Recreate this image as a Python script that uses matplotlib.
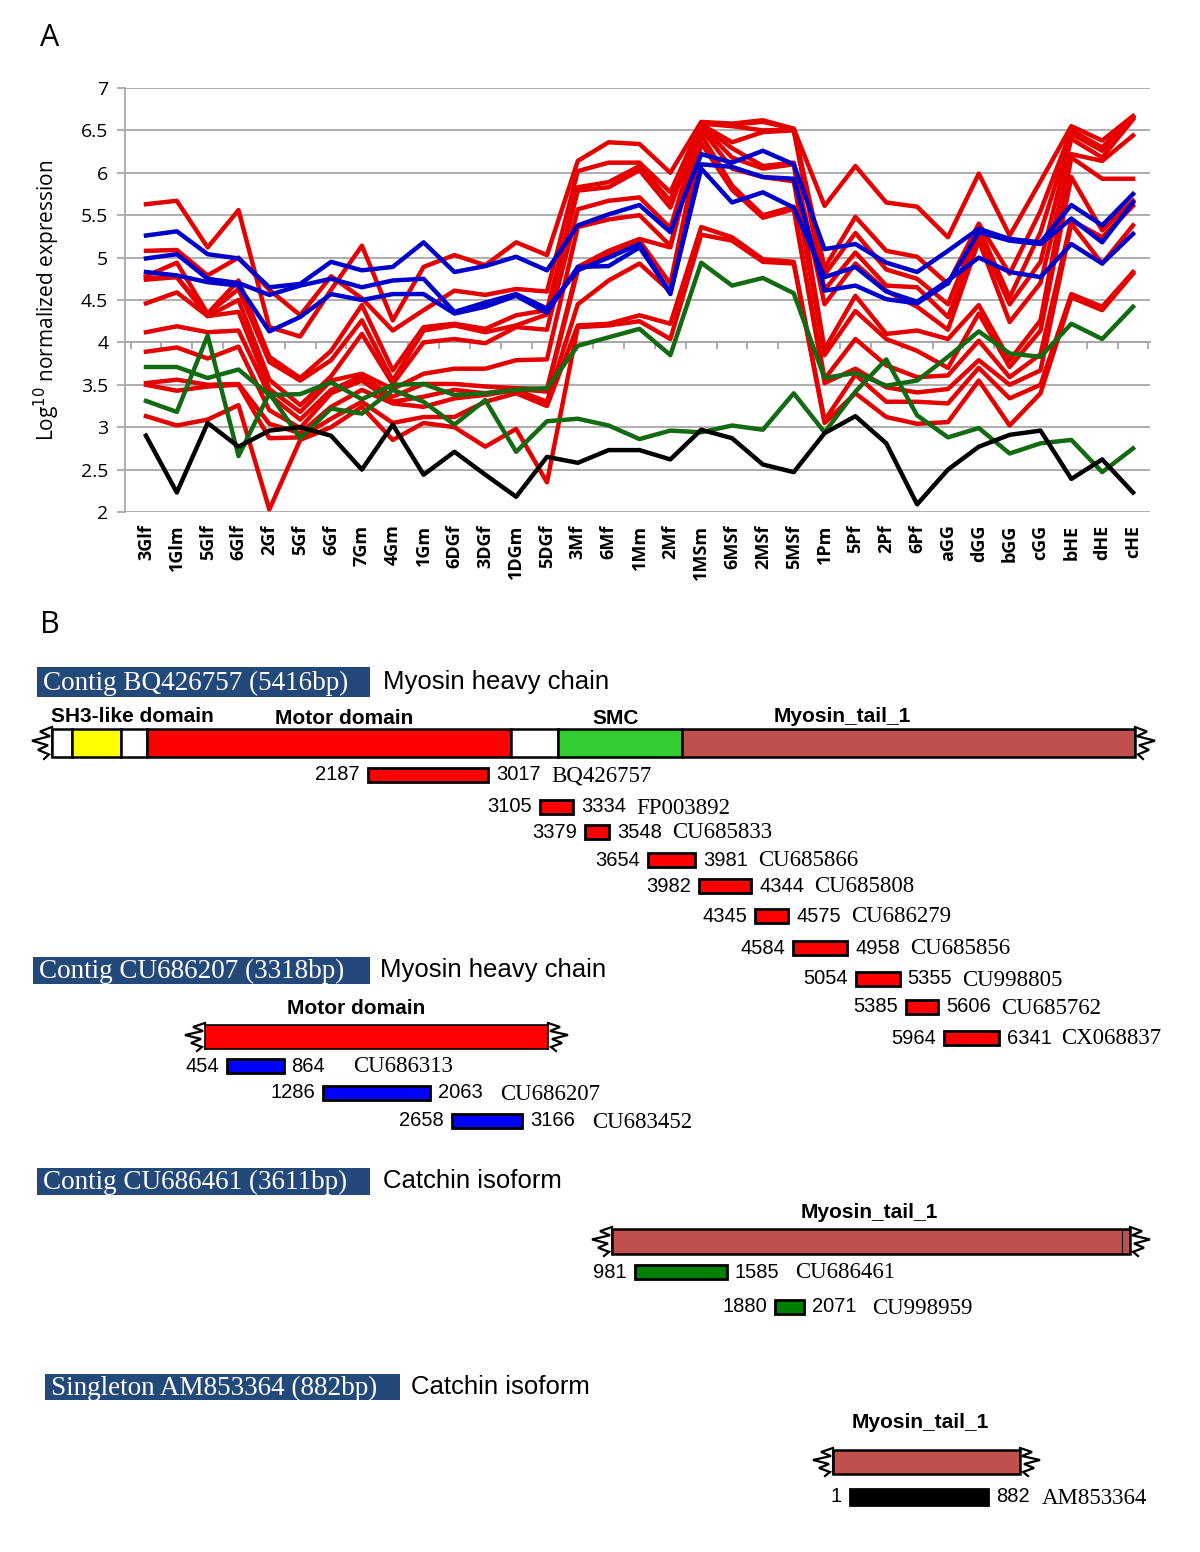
import matplotlib
matplotlib.use('Agg')
import matplotlib.pyplot as plt
import numpy as np
from matplotlib.patches import Rectangle

# ---------------- Panel A data ----------------
categories = ['3Glf', '1Glm', '5Glf', '6Glf', '2Gf', '5Gf', '6Gf', '7Gm', '4Gm', '1Gm',
              '6DGf', '3DGf', '1DGm', '5DGf', '3Mf', '6Mf', '1Mm', '2Mf', '1MSm', '6MSf',
              '2MSf', '5MSf', '1Pm', '5Pf', '2Pf', '6Pf', 'aGG', 'dGG', 'bGG', 'cGG',
              'bHE', 'dHE', 'cHE']

red1 = [5.63, 5.67, 5.12, 5.56, 4.18, 4.07, 4.62, 5.14, 4.26, 4.89, 5.03, 4.91, 5.18, 5.03,
        6.14, 6.36, 6.34, 6.00, 6.60, 6.58, 6.62, 6.52, 5.61, 6.08, 5.65, 5.60, 5.24, 5.99,
        5.26, 5.90, 6.55, 6.38, 6.67]
red2 = [5.08, 5.09, 4.79, 5.00, 4.62, 4.32, 4.78, 4.52, 4.14, 4.38, 4.61, 4.56, 4.63, 4.60,
        6.02, 6.12, 6.12, 5.77, 6.58, 6.57, 6.60, 6.52, 4.88, 5.48, 5.08, 5.01, 4.69, 5.40,
        4.81, 5.55, 6.50, 6.30, 6.66]
red3 = [4.78, 4.94, 4.34, 4.73, 3.83, 3.58, 3.90, 4.44, 3.67, 4.18, 4.22, 4.16, 4.32, 4.38,
        5.83, 5.89, 6.08, 5.67, 6.58, 6.55, 6.50, 6.51, 4.80, 5.29, 4.86, 4.75, 4.45, 5.35,
        4.53, 5.30, 6.46, 6.26, 6.65]
red4 = [4.76, 4.77, 4.34, 4.63, 3.77, 3.55, 3.79, 4.26, 3.55, 4.14, 4.20, 4.12, 4.20, 4.33,
        5.79, 5.83, 6.03, 5.59, 6.57, 6.36, 6.48, 6.50, 4.62, 5.06, 4.67, 4.65, 4.30, 5.25,
        4.45, 4.95, 6.40, 6.18, 6.63]
red5 = [4.74, 4.77, 4.31, 4.50, 3.56, 3.26, 3.60, 4.10, 3.51, 4.00, 4.04, 3.99, 4.18, 4.15,
        5.57, 5.67, 5.71, 5.35, 6.56, 6.29, 6.08, 6.12, 4.45, 4.93, 4.61, 4.42, 4.15, 5.20,
        4.24, 4.70, 6.22, 6.14, 6.44]
red6 = [4.46, 4.59, 4.31, 4.36, 3.45, 3.18, 3.55, 3.63, 3.45, 3.63, 3.69, 3.69, 3.79, 3.80,
        5.36, 5.45, 5.50, 5.14, 6.55, 6.18, 6.05, 6.10, 3.92, 4.55, 4.10, 4.14, 4.04, 4.44,
        3.79, 4.26, 6.18, 5.93, 5.93]
red7 = [4.12, 4.19, 4.12, 4.14, 3.38, 3.09, 3.44, 3.60, 3.36, 3.51, 3.51, 3.48, 3.46, 3.45,
        4.89, 5.08, 5.22, 5.12, 6.52, 6.05, 5.95, 5.90, 3.85, 4.37, 4.04, 3.90, 3.70, 4.34,
        3.71, 4.14, 5.95, 5.32, 5.67]
red8 = [3.89, 3.94, 3.81, 3.95, 3.20, 2.99, 3.40, 3.55, 3.30, 3.36, 3.44, 3.40, 3.45, 3.42,
        4.85, 5.05, 5.20, 4.69, 6.45, 5.85, 5.50, 5.60, 3.57, 4.04, 3.73, 3.59, 3.61, 4.02,
        3.59, 3.86, 5.44, 5.24, 5.61]
red9 = [3.52, 3.56, 3.50, 3.51, 3.04, 2.93, 3.24, 3.44, 3.28, 3.24, 3.34, 3.38, 3.44, 3.30,
        4.45, 4.73, 4.93, 4.60, 6.35, 5.80, 5.47, 5.57, 3.52, 3.69, 3.47, 3.41, 3.45, 3.79,
        3.50, 3.67, 5.40, 4.93, 5.38]
red10 = [3.50, 3.43, 3.48, 3.50, 2.87, 2.88, 3.10, 3.30, 3.05, 3.12, 3.12, 3.30, 3.40, 3.25,
         4.20, 4.22, 4.32, 4.22, 5.36, 5.24, 4.98, 4.95, 3.08, 3.62, 3.30, 3.30, 3.28, 3.70,
         3.34, 3.50, 4.57, 4.42, 4.83]
red11 = [3.13, 3.02, 3.09, 3.26, 2.03, 2.85, 3.00, 3.24, 2.85, 3.05, 3.00, 2.77, 2.98, 2.35,
         4.18, 4.20, 4.25, 4.04, 5.27, 5.20, 4.95, 4.93, 3.05, 3.40, 3.12, 3.04, 3.06, 3.55,
         3.02, 3.40, 4.53, 4.38, 4.81]

blue1 = [5.26, 5.31, 5.04, 4.99, 4.65, 4.69, 4.95, 4.85, 4.89, 5.18, 4.83, 4.90, 5.01, 4.85,
         5.38, 5.51, 5.62, 5.30, 6.22, 6.12, 6.26, 6.10, 5.10, 5.16, 4.94, 4.83, 5.08, 5.34,
         5.22, 5.18, 5.62, 5.38, 5.75]
blue2 = [4.99, 5.04, 4.75, 4.70, 4.56, 4.67, 4.75, 4.65, 4.73, 4.75, 4.36, 4.47, 4.57, 4.40,
         4.85, 5.00, 5.16, 4.57, 6.10, 6.07, 5.95, 5.93, 4.61, 4.67, 4.51, 4.46, 4.70, 5.30,
         5.20, 5.16, 5.46, 5.18, 5.65]
blue3 = [4.83, 4.79, 4.71, 4.67, 4.13, 4.30, 4.57, 4.50, 4.57, 4.57, 4.34, 4.42, 4.55, 4.35,
         4.89, 4.90, 5.12, 4.59, 6.05, 5.65, 5.77, 5.59, 4.77, 4.89, 4.60, 4.48, 4.73, 5.00,
         4.83, 4.77, 5.16, 4.93, 5.28]

green1 = [3.71, 3.71, 3.58, 3.68, 3.38, 3.39, 3.53, 3.33, 3.50, 3.51, 3.38, 3.40, 3.44, 3.46,
          3.96, 4.06, 4.16, 3.85, 4.94, 4.67, 4.76, 4.58, 3.58, 3.64, 3.49, 3.55, 3.83, 4.13,
          3.87, 3.83, 4.22, 4.04, 4.42]
green2 = [3.31, 3.18, 4.08, 2.66, 3.40, 2.87, 3.22, 3.16, 3.44, 3.30, 3.03, 3.32, 2.71, 3.07,
          3.10, 3.02, 2.86, 2.96, 2.94, 3.02, 2.97, 3.40, 2.94, 3.42, 3.80, 3.14, 2.88, 2.99,
          2.69, 2.81, 2.85, 2.47, 2.75]

black1 = [2.90, 2.23, 3.05, 2.77, 2.96, 3.00, 2.90, 2.50, 3.03, 2.44, 2.71, 2.44, 2.18, 2.65,
          2.58, 2.73, 2.73, 2.62, 2.97, 2.87, 2.56, 2.47, 2.93, 3.13, 2.81, 2.09, 2.50, 2.77,
          2.91, 2.96, 2.39, 2.62, 2.23]

y_ticks = [2, 2.5, 3, 3.5, 4, 4.5, 5, 5.5, 6, 6.5, 7]

# ---------------- Panel B data ----------------
contig_titles = ['Contig BQ426757 (5416bp)', 'Contig CU686207 (3318bp)',
                 'Contig CU686461 (3611bp)', 'Singleton AM853364 (882bp)']
contig_desc = ['Myosin heavy chain', 'Myosin heavy chain', 'Catchin isoform', 'Catchin isoform']

frag1_start = [2187, 3105, 3379, 3654, 3982, 4345, 4584, 5054, 5385, 5964]
frag1_end = [3017, 3334, 3548, 3981, 4344, 4575, 4958, 5355, 5606, 6341]
frag1_acc = ['BQ426757', 'FP003892', 'CU685833', 'CU685866', 'CU685808', 'CU686279',
             'CU685856', 'CU998805', 'CU685762', 'CX068837']
frag2_start = [454, 1286, 2658]
frag2_end = [864, 2063, 3166]
frag2_acc = ['CU686313', 'CU686207', 'CU683452']
frag3_start = [981, 1880]
frag3_end = [1585, 2071]
frag3_acc = ['CU686461', 'CU998959']
frag4_start = [1]
frag4_end = [882]
frag4_acc = ['AM853364']

# ---------------- Figure ----------------
W, H = 1200, 1552
fig = plt.figure(figsize=(W / 100, H / 100), dpi=100)
SANS = ['Liberation Sans', 'DejaVu Sans']
SERIF = ['Liberation Serif', 'DejaVu Serif']
OPEN = ['Open Sans', 'DejaVu Sans']

ax = fig.add_axes([125 / W, 1 - 512 / H, 1025 / W, 424 / H])
x = np.arange(len(categories))
RED, BLUE, GREEN, BLACK = '#E50000', '#0000CC', '#126B12', '#000000'
LW = 3.2
for s in [red1, red2, red3, red4, red5, red6, red7, red8, red9, red10, red11]:
    ax.plot(x, s, color=RED, lw=LW, solid_joinstyle='round', zorder=3)
for s in [blue1, blue2, blue3]:
    ax.plot(x, s, color=BLUE, lw=LW, solid_joinstyle='round', zorder=4)
for s in [green1, green2]:
    ax.plot(x, s, color=GREEN, lw=LW, solid_joinstyle='round', zorder=5)
ax.plot(x, black1, color=BLACK, lw=LW, solid_joinstyle='round', zorder=6)

ax.set_xlim(-0.68, 32.55)
ax.set_ylim(2, 7)
ax.set_yticks(y_ticks)
ax.set_yticklabels([f'{v:g}' for v in y_ticks], fontfamily=OPEN, fontsize=14)
ax.grid(axis='y', color='#A8A8A8', lw=1.3, zorder=0)
for sp in ['top', 'right', 'bottom']:
    ax.spines[sp].set_visible(False)
ax.spines['left'].set_color('#A8A8A8')
ax.spines['left'].set_linewidth(1.3)
ax.tick_params(axis='y', length=6, width=1.3, color='#A8A8A8', pad=6)
ax.set_xticks(x)
ax.set_xticklabels(categories, rotation=90, fontweight='bold', fontsize=13, fontfamily=OPEN)
ax.tick_params(axis='x', length=0, pad=9)
ax.set_ylabel('Log$^{10}$ normalized expression', fontsize=15, fontfamily=OPEN, labelpad=14)

# category boundary ticks on the axis line at y = 4
sec = ax.secondary_xaxis((4 - 2) / 5)
sec.set_xticks(np.arange(-0.5, len(categories), 1))
sec.xaxis.set_ticks_position('bottom')
sec.tick_params(axis='x', direction='out', length=5, width=1.3, color='#A8A8A8',
                labelbottom=False, labeltop=False)
for sp in sec.spines.values():
    sp.set_color('#A8A8A8')
    sp.set_linewidth(1.3)

fig.text(40 / W, 1 - 38 / H, 'A', fontsize=22, fontfamily=OPEN, va='center', ha='left')
fig.text(40 / W, 1 - 625 / H, 'B', fontsize=22, fontfamily=OPEN, va='center', ha='left')

# ---------------- Panel B ----------------
bx = fig.add_axes([0, 0, 1, 1])
bx.set_xlim(0, W)
bx.set_ylim(H, 0)
bx.axis('off')

TITLE_BG = '#23497B'


def title_box(x0, x1, y0, y1, title, desc, desc_x):
    bx.add_patch(Rectangle((x0, y0), x1 - x0, y1 - y0, facecolor=TITLE_BG, edgecolor='none'))
    bx.text(x0 + 6, (y0 + y1) / 2 + 1, title, color='white', fontsize=19.5, fontfamily=SERIF,
            va='center', ha='left')
    bx.text(desc_x, (y0 + y1) / 2, desc, color='black', fontsize=18.5, fontfamily=SANS,
            va='center', ha='left')


def jag(xe, y0, y1, direction):
    ys = np.linspace(y0 - 2, y1 + 2, 8)
    offs = np.array([0, 12, 2, 20, 4, 14, 3, 8])
    bx.plot(xe + direction * offs, ys, color='black', lw=1.6, zorder=6, solid_joinstyle='miter')
    bx.plot([xe, xe], [y0, y1], color='black', lw=1.2, zorder=6)


def segment(x0, x1, y0, y1, color):
    bx.add_patch(Rectangle((x0, y0), x1 - x0, y1 - y0, facecolor=color, edgecolor='black',
                           lw=1.8, zorder=4))


def fragments(starts, ends, accs, xs, ys, scale, color, h, acc_gap):
    for s, e, a, x0, yc in zip(starts, ends, accs, xs, ys):
        w = (e - s) * scale
        bx.add_patch(Rectangle((x0, yc - h / 2), w, h, facecolor=color, edgecolor='black',
                               lw=2, zorder=4))
        bx.text(x0 - 8, yc, str(s), fontsize=14.5, fontfamily=SANS, ha='right', va='center')
        bx.text(x0 + w + 8, yc, str(e), fontsize=14.5, fontfamily=SANS, ha='left', va='center')
        bx.text(x0 + w + acc_gap, yc + 1, a, fontsize=16.5, fontfamily=SERIF, ha='left',
                va='center')


def dlabel(xc, yc, txt):
    bx.text(xc, yc, txt, fontsize=15, fontweight='bold', fontfamily=SANS, ha='center',
            va='center')


# Row 1
title_box(37, 370, 667, 697, contig_titles[0], contig_desc[0], 383)
dlabel(132, 717, 'SH3-like domain')
dlabel(344, 718, 'Motor domain')
dlabel(616, 718, 'SMC')
dlabel(842, 717, 'Myosin_tail_1')
for x0, x1, c in [(52, 72, 'white'), (72, 121, '#FFFF00'), (121, 147, 'white'),
                  (147, 511, '#FF0000'), (511, 558, 'white'), (558, 682, '#33CC33'),
                  (682, 1135, '#C0504D')]:
    segment(x0, x1, 729, 757, c)
jag(52, 729, 757, -1)
jag(1135, 729, 757, 1)
fragments(frag1_start, frag1_end, frag1_acc,
          [368, 540, 585, 648, 699, 755, 793, 856, 906, 944],
          [775, 807, 832, 860, 886, 916, 948, 979, 1007, 1038],
          0.1446, '#FF0000', 14, 63)

# Row 2
title_box(33, 370, 957, 984, contig_titles[1], contig_desc[1], 380)
dlabel(356, 1008, 'Motor domain')
bx.add_patch(Rectangle((205, 1025), 343, 24, facecolor='#FF0000', edgecolor='none', zorder=4))
bx.plot([205, 548], [1025, 1025], color='black', lw=1.2, zorder=5)
bx.plot([205, 548], [1049, 1049], color='black', lw=1.2, zorder=5)
jag(205, 1025, 1049, -1)
jag(548, 1025, 1049, 1)
fragments(frag2_start, frag2_end, frag2_acc, [227, 323, 452], [1066, 1093, 1121],
          0.138, '#0000FF', 14, 70)

# Row 3
title_box(37, 370, 1168, 1195, contig_titles[2], contig_desc[2], 383)
dlabel(869, 1212, 'Myosin_tail_1')
segment(612, 1130, 1229, 1254, '#C0504D')
bx.plot([1122, 1122], [1229, 1254], color='black', lw=0.8, zorder=5)
jag(612, 1229, 1254, -1)
jag(1130, 1229, 1254, 1)
fragments(frag3_start, frag3_end, frag3_acc, [635, 775], [1272, 1307],
          0.152, '#008000', 14, 68)

# Row 4
title_box(45, 400, 1374, 1400, contig_titles[3], contig_desc[3], 411)
dlabel(920, 1423, 'Myosin_tail_1')
segment(833, 1020, 1450, 1474, '#C0504D')
jag(833, 1450, 1474, -1)
jag(1020, 1450, 1474, 1)
fragments(frag4_start, frag4_end, frag4_acc, [850], [1497], 0.157, '#000000', 16, 53)

fig.savefig('out.png', dpi=100)
